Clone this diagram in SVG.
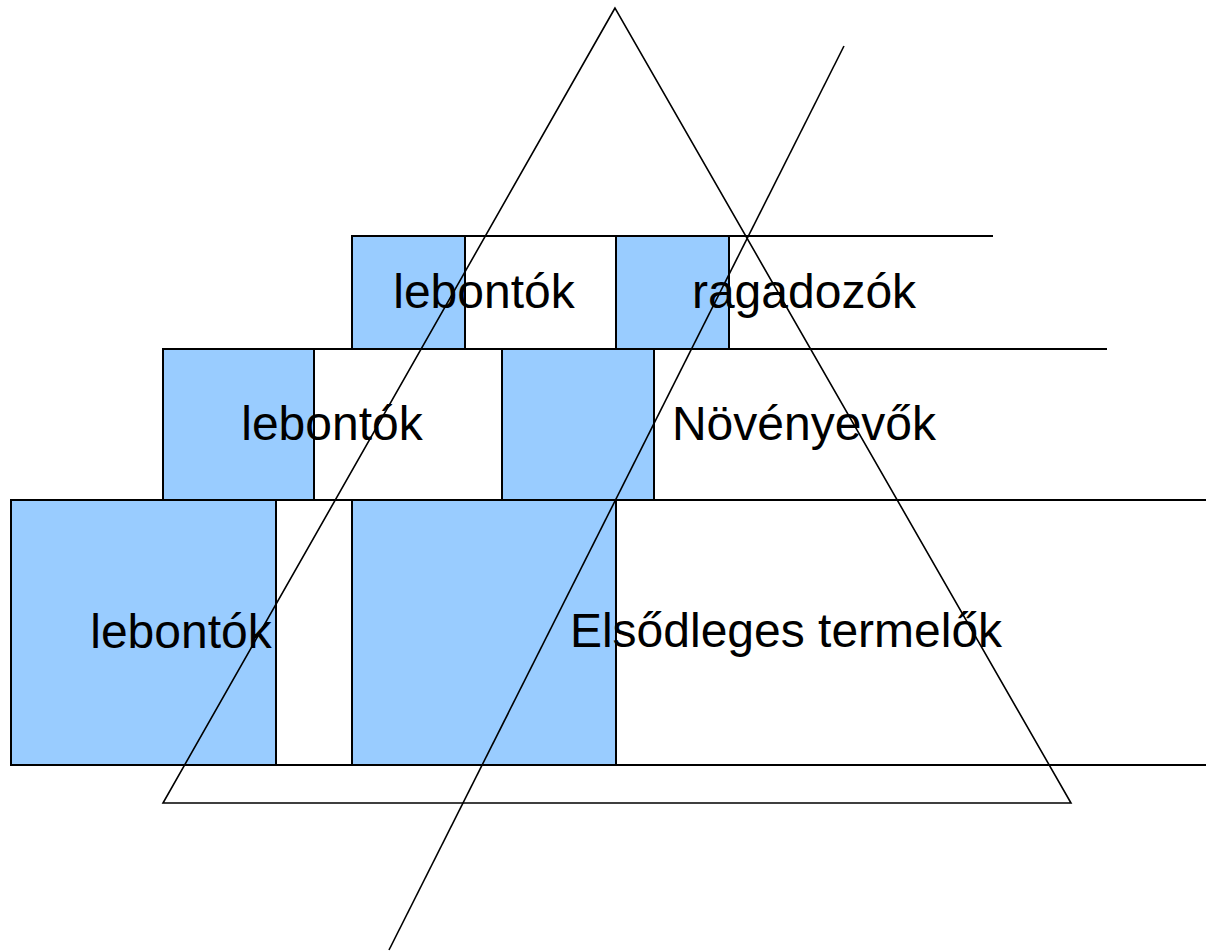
<svg xmlns="http://www.w3.org/2000/svg" width="1206" height="952" viewBox="0 0 1206 952">
<style>
.b{fill:#99ccff;stroke:#000;stroke-width:2}
.w{fill:#fff;stroke:none}
.e{fill:none;stroke:#000;stroke-width:2}
.t{font-family:"Liberation Sans",Arial,sans-serif;font-size:48px;fill:#000;text-anchor:middle}
.l{fill:none;stroke:#000;stroke-width:1.6}
</style>
<rect width="1206" height="952" fill="#fff"/>
<g id="row3">
<g id="n-lebontok-3">
<rect class="w" x="276" y="500" width="76" height="265"/>
<path class="e" d="M276,500 H352 M276,765 H352"/>
<rect class="b" x="11" y="500" width="265" height="265"/>
<text class="t" x="181" y="648">lebontók</text>
</g>
<g id="n-elsodleges">
<rect class="w" x="616" y="500" width="590" height="265"/>
<path class="e" d="M616,500 H1206 M616,765 H1206"/>
<rect class="b" x="352" y="500" width="264" height="265"/>
<text class="t" x="786" y="647">Elsődleges termelők</text>
</g>
</g>
<g id="row2">
<g id="n-lebontok-2">
<rect class="w" x="314" y="349" width="188" height="151"/>
<path class="e" d="M314,349 H502 M314,500 H502"/>
<rect class="b" x="163" y="349" width="151" height="151"/>
<text class="t" x="332" y="440">lebontók</text>
</g>
<g id="n-novenyevok">
<rect class="w" x="654" y="349" width="453" height="150"/>
<path class="e" d="M654,349 H1107 M654,500 H1206"/>
<rect class="b" x="502" y="349" width="152" height="151"/>
<text class="t" x="804" y="440">Növényevők</text>
</g>
</g>
<g id="row1">
<g id="n-lebontok-1">
<rect class="w" x="465" y="236" width="151" height="113"/>
<path class="e" d="M465,236 H616 V349 M465,349 H616"/>
<rect class="b" x="352" y="236" width="113" height="113"/>
<text class="t" x="484" y="308">lebontók</text>
</g>
<g id="n-ragadozok">
<rect class="w" x="729" y="236" width="264" height="113"/>
<path class="e" d="M729,236 H993 M729,349 H1107"/>
<rect class="b" x="616" y="236" width="113" height="113"/>
<text class="t" x="804" y="308">ragadozók</text>
</g>
</g>
<g id="connectors">
<path class="l" d="M615,8 L163,803 H1071 Z"/>
<line class="l" x1="844" y1="46" x2="389" y2="950"/>
</g>
</svg>
